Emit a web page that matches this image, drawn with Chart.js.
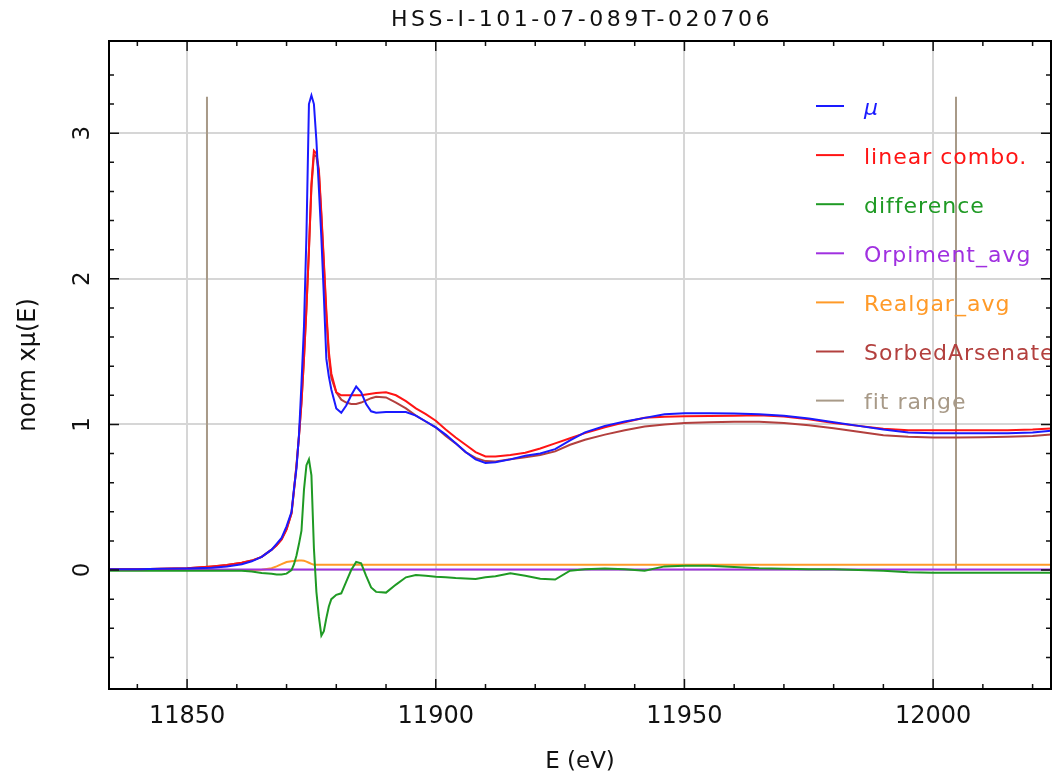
<!DOCTYPE html>
<html>
<head>
<meta charset="utf-8">
<script src="https://cdn.jsdelivr.net/npm/chart.js@4.4.0/dist/chart.umd.min.js"></script>
<style>
  html, body { margin: 0; padding: 0; background: #fff; }
  canvas { display: block; }
</style>
</head>
<body>
<canvas id="xanes" width="1055" height="776"></canvas>
<script>
// energy grid (eV), shared by every curve
const ENERGY = [
  11834, 11840, 11845, 11850, 11855, 11858, 11861, 11863, 11865,
  11867, 11868, 11869, 11870, 11871, 11871.5, 11872, 11872.5, 11873, 11873.5,
  11874, 11874.5, 11875, 11875.5, 11876, 11876.5, 11877, 11877.5, 11878, 11878.5,
  11879, 11880, 11881, 11882, 11883, 11884, 11885, 11886, 11887, 11888,
  11890, 11892, 11894, 11896, 11898, 11900, 11902, 11904, 11906, 11908,
  11910, 11912, 11915, 11918, 11921, 11924, 11927, 11930, 11934, 11938,
  11942, 11946, 11950, 11955, 11960, 11965, 11970, 11975, 11980, 11985,
  11990, 11995, 12000, 12005, 12010, 12015, 12020, 12025
];

const MU = [
  0.005, 0.006, 0.008, 0.010, 0.015, 0.025, 0.040, 0.060, 0.090,
  0.14, 0.18, 0.22, 0.30, 0.40, 0.56, 0.70, 0.93, 1.28, 1.67,
  2.30, 3.20, 3.26, 3.20, 2.95, 2.62, 2.28, 1.88, 1.45, 1.33,
  1.24, 1.11, 1.08, 1.13, 1.20, 1.26, 1.22, 1.14, 1.09, 1.08,
  1.085, 1.085, 1.085, 1.06, 1.02, 0.98, 0.93, 0.87, 0.81, 0.76,
  0.735, 0.74, 0.76, 0.785, 0.80, 0.83, 0.89, 0.945, 0.99, 1.02,
  1.045, 1.07, 1.077, 1.077, 1.075, 1.07, 1.06, 1.04, 1.015, 0.99,
  0.965, 0.945, 0.94, 0.94, 0.94, 0.94, 0.945, 0.96
];

const LINEAR_COMBO = [
  0.005, 0.006, 0.008, 0.012, 0.025, 0.035, 0.050, 0.065, 0.090,
  0.14, 0.17, 0.21, 0.28, 0.39, 0.55, 0.72, 0.92, 1.15, 1.45,
  1.80, 2.20, 2.65, 2.88, 2.86, 2.75, 2.45, 2.12, 1.78, 1.50,
  1.35, 1.22, 1.20, 1.20, 1.20, 1.20, 1.20, 1.205, 1.21, 1.215,
  1.22, 1.20, 1.16, 1.11, 1.07, 1.025, 0.965, 0.91, 0.86, 0.81,
  0.78, 0.78, 0.79, 0.805, 0.835, 0.87, 0.905, 0.94, 0.98, 1.015,
  1.045, 1.053, 1.056, 1.057, 1.06, 1.063, 1.055, 1.035, 1.01, 0.99,
  0.97, 0.96, 0.96, 0.96, 0.96, 0.96, 0.965, 0.975
];

const DIFFERENCE = [
  -0.005, -0.005, -0.005, -0.005, -0.005, -0.005, -0.005, -0.010, -0.020,
  -0.025, -0.030, -0.030, -0.025, 0.0, 0.04, 0.10, 0.18, 0.27, 0.55,
  0.72, 0.76, 0.65, 0.15, -0.15, -0.32, -0.45, -0.42, -0.33, -0.25,
  -0.20, -0.17, -0.16, -0.08, 0.0, 0.055, 0.046, -0.04, -0.12, -0.15,
  -0.155, -0.10, -0.05, -0.035, -0.04, -0.046, -0.05, -0.055, -0.058, -0.062,
  -0.05, -0.042, -0.023, -0.04, -0.06, -0.065, -0.005, 0.005, 0.01, 0.005,
  -0.005, 0.025, 0.03, 0.03, 0.02, 0.012, 0.008, 0.005, 0.005, 0.0,
  -0.005, -0.015, -0.018, -0.018, -0.018, -0.018, -0.018, -0.018
];

const ORPIMENT = [
  0.004, 0.004, 0.004, 0.004, 0.004, 0.004, 0.004, 0.004, 0.004,
  0.004, 0.004, 0.004, 0.004, 0.004, 0.004, 0.004, 0.004, 0.004, 0.004,
  0.004, 0.004, 0.004, 0.004, 0.004, 0.004, 0.004, 0.004, 0.004, 0.004,
  0.004, 0.004, 0.004, 0.004, 0.004, 0.004, 0.004, 0.004, 0.004, 0.004,
  0.004, 0.004, 0.004, 0.004, 0.004, 0.004, 0.004, 0.004, 0.004, 0.004,
  0.004, 0.004, 0.004, 0.004, 0.004, 0.004, 0.004, 0.004, 0.004, 0.004,
  0.004, 0.004, 0.004, 0.004, 0.004, 0.004, 0.004, 0.004, 0.004, 0.004,
  0.004, 0.004, 0.004, 0.004, 0.004, 0.004, 0.004, 0.004
];

const REALGAR = [
  0, 0, 0, 0, 0, 0, 0, 0, 0.002,
  0.012, 0.025, 0.04, 0.055, 0.06, 0.062, 0.064, 0.065, 0.065, 0.063,
  0.058, 0.050, 0.042, 0.036, 0.037, 0.037, 0.037, 0.037, 0.037, 0.037,
  0.037, 0.037, 0.037, 0.037, 0.037, 0.037, 0.037, 0.037, 0.037, 0.037,
  0.037, 0.037, 0.037, 0.037, 0.037, 0.037, 0.037, 0.037, 0.037, 0.037,
  0.037, 0.037, 0.037, 0.037, 0.037, 0.037, 0.037, 0.037, 0.037, 0.037,
  0.037, 0.037, 0.037, 0.037, 0.037, 0.037, 0.037, 0.037, 0.037, 0.037,
  0.037, 0.037, 0.037, 0.037, 0.037, 0.037, 0.037, 0.037
];

const SORBED = [
  0.005, 0.006, 0.008, 0.012, 0.025, 0.035, 0.050, 0.065, 0.090,
  0.14, 0.17, 0.21, 0.28, 0.39, 0.55, 0.72, 0.92, 1.15, 1.45,
  1.80, 2.20, 2.63, 2.85, 2.84, 2.73, 2.43, 2.10, 1.75, 1.47,
  1.32, 1.22, 1.17, 1.15, 1.14, 1.14, 1.15, 1.165, 1.18, 1.19,
  1.185, 1.15, 1.11, 1.06, 1.02, 0.98, 0.92, 0.87, 0.81, 0.77,
  0.748, 0.745, 0.76, 0.775, 0.79, 0.815, 0.86, 0.895, 0.93, 0.96,
  0.985, 1.0, 1.01, 1.015, 1.018, 1.018, 1.01, 0.995, 0.973, 0.95,
  0.925, 0.915, 0.91, 0.91, 0.912, 0.915, 0.92, 0.935
];

// fit range markers
const FIT_RANGE = [11854, 12004.6];
const FIT_HEIGHT = 3.25;

const X_MIN = 11834.3, X_MAX = 12023.7;
const Y_MIN = -0.817, Y_MAX = 3.633;

const FONT = '"DejaVu Sans", "Liberation Sans", sans-serif';
const TITLE = 'HSS-I-101-07-089T-020706';

const pts = ys => ENERGY.map((e, i) => ({ x: e, y: ys[i] }));
const fitPts = [
  { x: FIT_RANGE[0], y: 0 }, { x: FIT_RANGE[0], y: FIT_HEIGHT },
  { x: FIT_RANGE[0], y: null },
  { x: FIT_RANGE[1], y: FIT_HEIGHT }, { x: FIT_RANGE[1], y: 0 }
];

const line = (label, data, color) => ({
  label, data, borderColor: color, backgroundColor: color,
  borderWidth: 2, pointRadius: 0, tension: 0, fill: false, spanGaps: false
});

const isMajorX = v => Math.round(v) % 50 === 0;
const isMajorY = v => Math.abs(v - Math.round(v)) < 1e-6;

// frame, inward ticks, title and in-plot legend
const decorations = {
  id: 'decorations',
  afterDatasetsDraw(chart) {
    const { ctx, chartArea: a, scales: { x, y } } = chart;

    // legend
    ctx.save();
    ctx.beginPath();
    ctx.rect(a.left, a.top, a.right - a.left, a.bottom - a.top);
    ctx.clip();
    chart.data.datasets.forEach((ds, i) => {
      const ly = a.top + 65 + i * 49.1;
      ctx.strokeStyle = ds.borderColor;
      ctx.lineWidth = 2;
      ctx.beginPath();
      ctx.moveTo(a.right - 235, ly);
      ctx.lineTo(a.right - 207, ly);
      ctx.stroke();
      ctx.fillStyle = ds.borderColor;
      ctx.font = (i === 0 ? 'italic ' : '') + '22px ' + FONT;
      ctx.letterSpacing = '1px';
      ctx.textBaseline = 'middle';
      ctx.textAlign = 'left';
      ctx.fillText(ds.label, a.right - 187, ly + 3);
    });
    ctx.restore();

    // ticks pointing inwards on all four sides
    ctx.save();
    ctx.strokeStyle = '#111';
    ctx.lineWidth = 1.5;
    ctx.beginPath();
    x.ticks.forEach(t => {
      const px = x.getPixelForValue(t.value);
      const len = isMajorX(t.value) ? 10 : 5;
      ctx.moveTo(px, a.bottom); ctx.lineTo(px, a.bottom - len);
      ctx.moveTo(px, a.top); ctx.lineTo(px, a.top + len);
    });
    y.ticks.forEach(t => {
      const py = y.getPixelForValue(t.value);
      const len = isMajorY(t.value) ? 10 : 5;
      ctx.moveTo(a.left, py); ctx.lineTo(a.left + len, py);
      ctx.moveTo(a.right, py); ctx.lineTo(a.right - len, py);
    });
    ctx.stroke();

    ctx.strokeStyle = '#000';
    ctx.lineWidth = 2;
    ctx.strokeRect(a.left, a.top, a.right - a.left, a.bottom - a.top);

    // title
    ctx.fillStyle = '#111';
    ctx.font = '22px ' + FONT;
    ctx.letterSpacing = '3.5px';
    ctx.textAlign = 'center';
    ctx.textBaseline = 'middle';
    ctx.fillText(TITLE, (a.left + a.right) / 2 + 2, 20);
    ctx.restore();
  }
};

new Chart(document.getElementById('xanes'), {
  type: 'line',
  data: {
    datasets: [
      line('μ', pts(MU), '#1a1aff'),
      line('linear combo.', pts(LINEAR_COMBO), '#ff1414'),
      line('difference', pts(DIFFERENCE), '#1f9a24'),
      line('Orpiment_avg', pts(ORPIMENT), '#a030e0'),
      line('Realgar_avg', pts(REALGAR), '#ff9a28'),
      line('SorbedArsenate', pts(SORBED), '#b3403e'),
      line('fit range', fitPts, '#a89a88')
    ]
  },
  options: {
    responsive: false,
    animation: false,
    events: [],
    layout: { padding: { top: 41, right: 4, left: 0, bottom: 0 } },
    plugins: {
      legend: { display: false },
      title: { display: false },
      tooltip: { enabled: false }
    },
    scales: {
      x: {
        type: 'linear',
        min: X_MIN,
        max: X_MAX,
        afterFit: s => { s.height = 87; },
        border: { display: false },
        grid: {
          drawTicks: false,
          lineWidth: 2,
          color: c => isMajorX(c.tick.value) ? '#d6d6d6' : 'rgba(0,0,0,0)'
        },
        ticks: {
          stepSize: 10,
          includeBounds: false,
          autoSkip: false,
          maxRotation: 0,
          padding: 13,
          color: '#111',
          font: { family: FONT, size: 24 },
          callback: v => isMajorX(v) ? String(Math.round(v)) : ''
        },
        title: {
          display: true,
          text: 'E (eV)',
          color: '#111',
          font: { family: FONT, size: 23 },
          padding: { top: 0, bottom: 0 }
        }
      },
      y: {
        type: 'linear',
        min: Y_MIN,
        max: Y_MAX,
        afterFit: s => { s.width = 109; },
        border: { display: false },
        grid: {
          drawTicks: false,
          lineWidth: 2,
          color: c => isMajorY(c.tick.value) ? '#d6d6d6' : 'rgba(0,0,0,0)'
        },
        ticks: {
          stepSize: 0.2,
          autoSkip: false,
          minRotation: 90,
          maxRotation: 90,
          crossAlign: 'center',
          padding: 19,
          color: '#111',
          font: { family: FONT, size: 23 },
          callback: v => isMajorY(v) ? String(Math.round(v)) : ''
        },
        title: {
          display: true,
          text: 'norm xμ(E)',
          color: '#111',
          font: { family: FONT, size: 24 },
          padding: { top: 14, bottom: 0 }
        }
      }
    }
  },
  plugins: [decorations]
});
</script>
</body>
</html>
